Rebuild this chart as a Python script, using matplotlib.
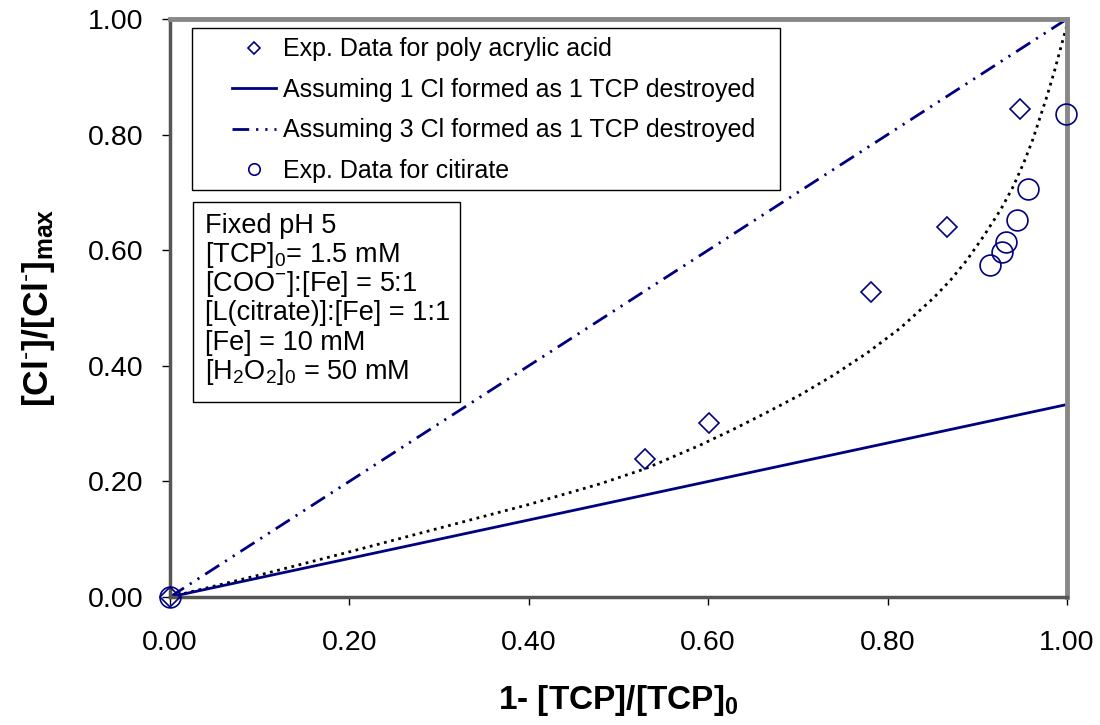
'''
Chloride release vs. TCP conversion, Fe-carboxylate systems at pH 5.
'''

import numpy as np
from matplotlib import pyplot as plt
from matplotlib.patches import Rectangle

plt.rcParams['font.family'] = ['Liberation Sans', 'DejaVu Sans']
plt.rcParams['mathtext.fontset'] = 'custom'
plt.rcParams['mathtext.rm'] = 'Liberation Sans'
plt.rcParams['mathtext.bf'] = 'Liberation Sans:bold'
plt.rcParams['mathtext.it'] = 'Liberation Sans:italic'

##################
# data

# poly acrylic acid experiments
paa_x = np.array([0.0, 0.530, 0.601, 0.782, 0.866, 0.948])
paa_y = np.array([0.0, 0.238, 0.301, 0.528, 0.640, 0.845])

# citrate experiments
cit_x = np.array([0.0, 0.914, 0.928, 0.932, 0.944, 0.957, 0.999])
cit_y = np.array([0.0, 0.574, 0.596, 0.614, 0.653, 0.706, 0.836])

# 1 Cl per TCP destroyed
one_x = np.array([0.0, 1.0])
one_y = np.array([0.0, 0.333])

# 3 Cl per TCP destroyed
three_x = np.array([0.0, 1.0])
three_y = np.array([0.0, 1.0])

# dotted model curve
fit_x = np.array([0.0, 0.1, 0.2, 0.3, 0.4, 0.48, 0.53, 0.59, 0.628, 0.665, 0.703, 0.74,
                  0.777, 0.814, 0.851, 0.87, 0.888, 0.907, 0.926, 0.94, 0.952, 0.962,
                  0.97, 0.978, 0.986, 0.993, 1.0])
fit_y = np.array([0.0, 0.038, 0.078, 0.119, 0.160, 0.196, 0.222, 0.262, 0.290, 0.319, 0.350,
                  0.384, 0.422, 0.465, 0.517, 0.548, 0.582, 0.624, 0.670, 0.710, 0.752,
                  0.792, 0.830, 0.868, 0.910, 0.950, 0.990])

ticks = [0.0, 0.2, 0.4, 0.6, 0.8, 1.0]

info_lines = ['Fixed pH 5',
              '[TCP]$_0$= 1.5 mM',
              '[COO$^{-}$]:[Fe] = 5:1',
              '[L(citrate)]:[Fe] = 1:1',
              '[Fe] = 10 mM',
              '[H$_2$O$_2$]$_0$ = 50 mM']

navy = '#000080'

fig = plt.figure(figsize=(11, 7.25), dpi=100)
ax = fig.add_axes([0.1545, 0.1766, 0.8155, 0.7972])

ax.plot(fit_x, fit_y, c='black', linestyle=':', linewidth=2.0)
ax.plot(paa_x, paa_y, linestyle='none', marker='D', ms=10.6, mfc='none', mec=navy, mew=1.2,
        label='Exp. Data for poly acrylic acid', clip_on=False, zorder=4)
ax.plot(one_x, one_y, c=navy, linewidth=2.0, label='Assuming 1 Cl formed as 1 TCP destroyed')
ax.plot(three_x, three_y, c=navy, linewidth=2.0, linestyle=(0, (6, 2.5, 0.8, 2.5, 0.8, 2.5)),
        label='Assuming 3 Cl formed as 1 TCP destroyed')
ax.plot(cit_x, cit_y, linestyle='none', marker='o', ms=15, mfc='none', mec=navy, mew=1.2,
        label='Exp. Data for citirate', clip_on=False, zorder=4)

ax.set_xlim([0.0, 1.0])
ax.set_ylim([0.0, 1.0])
ax.set_xticks(ticks)
ax.set_yticks(ticks)
ax.set_xticklabels([f'{t:.2f}' for t in ticks])
ax.set_yticklabels([f'{t:.2f}' for t in ticks])
ax.tick_params(axis='both', direction='out', length=6, width=1, labelsize=20.5)
ax.tick_params(axis='x', pad=18)
ax.tick_params(axis='y', pad=13)

for s in ['top', 'right']:
    ax.spines[s].set_color('#888888')
    ax.spines[s].set_linewidth(3.5)
for s in ['left', 'bottom']:
    ax.spines[s].set_color('#555555')
    ax.spines[s].set_linewidth(2.5)

ax.set_xlabel(r'1- [TCP]/[TCP]$_\mathbf{0}$', size=24, fontweight='bold', labelpad=19)
ax.set_ylabel(r'[Cl$^{\text{-}}$]/[Cl$^{\text{-}}$]$_\mathbf{max}$', size=25.5,
              fontweight='bold', labelpad=22)

# legend box drawn separately (Excel style, wide left margin)
ax.add_patch(Rectangle((0.0245, 0.704), 0.6555, 0.280, transform=ax.transAxes,
                       fc='white', ec='black', lw=1.0, zorder=5))
leg = ax.legend(loc='upper left', bbox_to_anchor=(0.069, 0.968), borderaxespad=0,
                fontsize=18, markerscale=0.55, handlelength=1.75, handletextpad=0.3,
                labelspacing=0.66, frameon=False, borderpad=0)
leg.set_zorder(6)

# conditions box
ax.add_patch(Rectangle((0.0257, 0.337), 0.2977, 0.346, transform=ax.transAxes,
                       fc='white', ec='black', lw=1.0, zorder=5))
for i, line in enumerate(info_lines):
    ax.text(0.039, 0.630 - i * 0.0505, line, transform=ax.transAxes, fontsize=19.5,
            va='baseline', ha='left', zorder=6)

plt.savefig('out.png', dpi=100)
